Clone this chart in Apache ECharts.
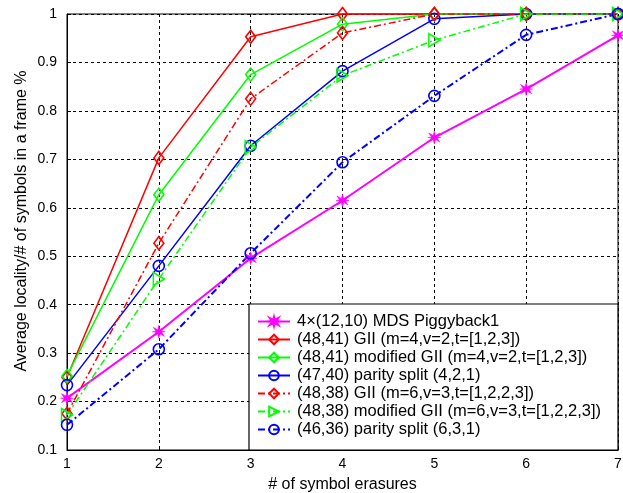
<!DOCTYPE html>
<html><head><meta charset="utf-8">
<script src="https://cdn.jsdelivr.net/npm/echarts@6/dist/echarts.min.js"></script>
<style>html,body{margin:0;padding:0;background:#fff}#c{width:623px;height:493px}</style>
</head><body><div id="c"></div>
<script>
const xs = [1, 2, 3, 4, 5, 6, 7];
const names = [
  '4\u00d7(12,10) MDS Piggyback1',
  '(48,41) GII (m=4,v=2,t=[1,2,3])',
  '(48,41) modified GII (m=4,v=2,t=[1,2,3])',
  '(47,40) parity split (4,2,1)',
  '(48,38) GII (m=6,v=3,t=[1,2,2,3])',
  '(48,38) modified GII (m=6,v=3,t=[1,2,2,3])',
  '(46,36) parity split (6,3,1)'
];
const piggyback = [0.207, 0.344, 0.496, 0.615, 0.745, 0.845, 0.956];
const gii41 = [0.25, 0.703, 0.953, 1.0, 1.0, 1.0, 1.0];
const modGii41 = [0.253, 0.627, 0.875, 0.979, 1.0, 1.0, 1.0];
const parity40 = [0.234, 0.48, 0.728, 0.882, 0.99, 1.0, 1.0];
const gii38 = [0.175, 0.527, 0.825, 0.961, 1.0, 1.0, 1.0];
const modGii38 = [0.172, 0.453, 0.725, 0.873, 0.946, 1.0, 1.0];
const parity36 = [0.152, 0.308, 0.506, 0.694, 0.831, 0.957, 1.0];
const yTicks = [0.1, 0.2, 0.3, 0.4, 0.5, 0.6, 0.7, 0.8, 0.9, 1];
const yName = 'Average locality/# of symbols in a frame %';
const xName = '# of symbol erasures';

const FONT = '"Liberation Sans", Arial, sans-serif';
const dashDot = [7, 3, 2, 3];
const star = 'path://M5,0 L5.9,3.4 L9.3,1.5 L7.2,4.6 L10,5 L7.2,5.4 L9.3,8.5 L5.9,6.6 L5,10 L4.1,6.6 L0.7,8.5 L2.8,5.4 L0,5 L2.8,4.6 L0.7,1.5 L4.1,3.4 Z';
const triR = 'path://M0,0 L10,5 L0,10 Z';

function mk(name, vals, color, type, symbol, size, width, hollow) {
  return {
    name: name, type: 'line', data: xs.map((x, i) => [x, vals[i]]),
    color: color, symbol: symbol, symbolSize: size, showSymbol: true,
    lineStyle: { color: color, width: width, type: type },
    itemStyle: hollow ? { color: 'rgba(0,0,0,0)', borderColor: color, borderWidth: 1.6 } : { color: color, borderColor: color, borderWidth: 0.5 },
    emphasis: { disabled: true }, animation: false, z: 3
  };
}
const series = [
  mk(names[0], piggyback, '#ff00ff', 'solid', star, 13, 2, false),
  mk(names[1], gii41, '#ff0000', 'solid', 'diamond', [10, 13], 1.5, true),
  mk(names[2], modGii41, '#00ff00', 'solid', 'diamond', [10, 13], 1.5, true),
  mk(names[3], parity40, '#0000ff', 'solid', 'circle', 11, 1.5, true),
  mk(names[4], gii38, '#ff0000', dashDot, 'diamond', [10, 13], 1.5, true),
  mk(names[5], modGii38, '#00ff00', dashDot, triR, [11, 13], 1.5, true),
  mk(names[6], parity36, '#0000ff', dashDot, 'circle', 11, 2, true)
];

const chart = echarts.init(document.getElementById('c'), null, { renderer: 'canvas' });
chart.setOption({
  backgroundColor: '#fff',
  animation: false,
  textStyle: { fontFamily: FONT },
  grid: { left: 67, right: 5, top: 14, bottom: 43, show: true, borderColor: '#000', borderWidth: 1, backgroundColor: 'transparent', containLabel: false, outerBoundsMode: 'none' },
  xAxis: {
    type: 'value', min: 1, max: 7, interval: 1,
    name: xName, nameLocation: 'middle', nameGap: 27,
    nameTextStyle: { color: '#000', fontSize: 16, fontFamily: FONT },
    axisLine: { show: true, lineStyle: { color: '#000', width: 1 } },
    axisTick: { show: true, inside: true, length: 4, lineStyle: { color: '#000' } },
    axisLabel: { color: '#000', fontSize: 14, fontFamily: FONT, margin: 7 },
    splitLine: { show: true, lineStyle: { color: '#000', type: [3, 3], width: 1 } }
  },
  yAxis: {
    type: 'value', min: 0.1, max: 1, interval: 0.1,
    axisLine: { show: true, lineStyle: { color: '#000', width: 1 } },
    axisTick: { show: true, inside: true, length: 4, lineStyle: { color: '#000' } },
    axisLabel: { color: '#000', fontSize: 14, fontFamily: FONT, margin: 10,
      formatter: v => { const r = Math.round(v * 10) / 10; return yTicks.indexOf(r) >= 0 ? String(r) : ''; } },
    splitLine: { show: true, lineStyle: { color: '#000', type: [3, 3], width: 1 } }
  },
  legend: {
    show: true, orient: 'vertical', left: 257, top: 313, z: 10,
    itemWidth: 32, itemHeight: 12, itemGap: 1,
    padding: 0,
    textStyle: { color: '#000', fontSize: 16.5, lineHeight: 16.8, fontFamily: FONT, padding: [0, 0, 0, 2] },
    selectedMode: false,
    data: names
  },
  graphic: [{
    type: 'rect', shape: { x: 249, y: 304, width: 369, height: 146 },
    style: { fill: '#fff', stroke: '#000', lineWidth: 1.2 }, z: 5, silent: true
  }, {
    type: 'text', x: 22, y: 221, rotation: Math.PI / 2,
    style: { text: yName, fill: '#000', font: '16px ' + FONT, textAlign: 'center', textVerticalAlign: 'middle' },
    silent: true
  }],
  series: series
});
</script></body></html>
